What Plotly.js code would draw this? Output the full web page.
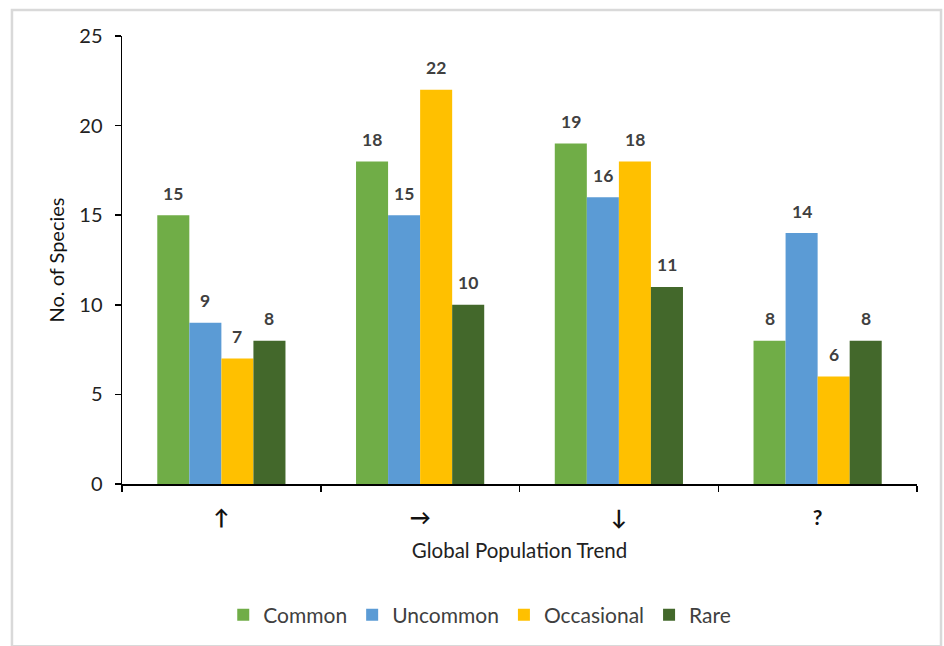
<!DOCTYPE html>
<html>
<head>
<meta charset="utf-8">
<script src="https://cdn.plot.ly/plotly-3.0.1.min.js"></script>
<style>html,body{margin:0;padding:0;background:#fff;}#chart{width:944px;height:646px;}</style>
</head>
<body>
<div id="chart"></div>
<script>
const categories = ['↑', '→', '↓', '?'];
const seriesNames = ['Common', 'Uncommon', 'Occasional', 'Rare'];
const common = [15, 18, 19, 8];
const uncommon = [9, 15, 16, 14];
const occasional = [7, 22, 18, 6];
const rare = [8, 10, 11, 8];
const colors = ['#70AD47', '#5B9BD5', '#FFC000', '#43682B'];

const seriesValues = [common, uncommon, occasional, rare];
const fontFam = 'Lato, "Open Sans", "DejaVu Sans", sans-serif';

const traces = seriesValues.map((vals, i) => ({
  type: 'bar',
  name: seriesNames[i],
  x: categories,
  y: vals,
  marker: {color: colors[i], line: {width: 0}},
  hoverinfo: 'x+y+name'
}));

const barW = 32;
const offsets = [-1.5, -0.5, 0.5, 1.5];
const annotations = [];
seriesValues.forEach((vals, i) => {
  vals.forEach((v, j) => {
    annotations.push({
      x: categories[j], y: v, xref: 'x', yref: 'y',
      text: String(v), showarrow: false,
      xshift: offsets[i] * barW, yshift: 22,
      font: {family: fontFam, size: 17.5, color: '#404040', weight: 'bold'}
    });
  });
});

const layout = {
  width: 944, height: 646,
  margin: {l: 122, r: 27, t: 36, b: 161},
  paper_bgcolor: '#ffffff', plot_bgcolor: '#ffffff',
  barmode: 'group', bargap: 0.355, bargroupgap: 0,
  showlegend: true,
  legend: {orientation: 'h', x: 0.45, xanchor: 'center', y: -0.29, yanchor: 'middle',
           font: {family: fontFam, size: 21, color: '#404040'}, itemwidth: 30, traceorder: 'normal'},
  xaxis: {
    type: 'category',
    showline: true, linecolor: '#000', linewidth: 1.5,
    ticks: 'outside', ticklen: 6, tickcolor: '#000', tickwidth: 1.5,
    tickson: 'boundaries',
    showgrid: false, zeroline: false,
    tickfont: {family: fontFam, size: 21, color: '#111', weight: 'bold'},
    ticklabelstandoff: 14,
    title: {text: 'Global Population Trend', font: {family: fontFam, size: 20.5, color: '#222'}, standoff: 16}
  },
  yaxis: {
    range: [0, 25], dtick: 5,
    showline: true, linecolor: '#000', linewidth: 1.5,
    ticks: 'outside', ticklen: 6, tickcolor: '#000', tickwidth: 1.5,
    showgrid: false, zeroline: false,
    tickfont: {family: fontFam, size: 20, color: '#222'},
    ticklabelstandoff: 8,
    title: {text: 'No. of Species', font: {family: fontFam, size: 20, color: '#111'}, standoff: 9}
  },
  annotations: annotations,
  shapes: [{
    type: 'rect', xref: 'paper', yref: 'paper',
    x0: -0.1384, x1: 1.0302, y0: -0.362, y1: 1.0579,
    line: {color: '#d9d9d9', width: 2.5}, fillcolor: 'rgba(0,0,0,0)', layer: 'below'
  }]
};

Plotly.newPlot('chart', traces, layout, {displayModeBar: false, staticPlot: true});
</script>
</body>
</html>
